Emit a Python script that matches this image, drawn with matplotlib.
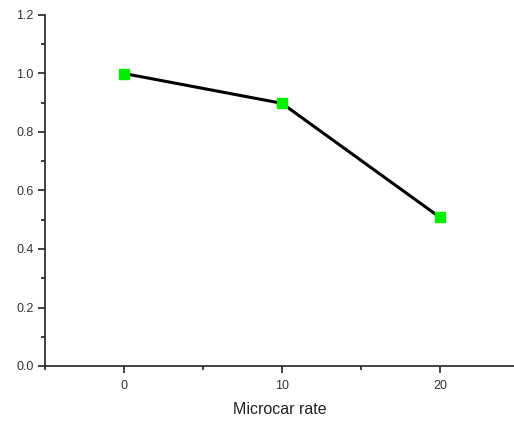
import matplotlib
matplotlib.use("Agg")
import matplotlib.pyplot as plt
from matplotlib.ticker import MultipleLocator

# data
rates = [0, 10, 20]
values = [1.0, 0.898, 0.508]

plt.rcParams['font.family'] = ['Liberation Sans', 'DejaVu Sans']

fig = plt.figure(figsize=(5.14, 4.21), dpi=100)
ax = fig.add_axes([45 / 514, 1 - 366 / 421, 1 - 45 / 514, (366 - 15) / 421])

ax.plot(rates, values, color='black', linewidth=2.2, marker='s',
        markersize=7, markerfacecolor='#00ee00', markeredgecolor='#00ee00', zorder=3)

ax.set_xlim(-5, -5 + (514 - 45) / 15.8)
ax.set_ylim(0, 1.2)
ax.xaxis.set_major_locator(MultipleLocator(10))
ax.xaxis.set_minor_locator(MultipleLocator(5))
ax.yaxis.set_major_locator(MultipleLocator(0.2))
ax.yaxis.set_minor_locator(MultipleLocator(0.1))
ax.yaxis.set_major_formatter(plt.FormatStrFormatter('%.1f'))

ax.spines['top'].set_visible(False)
ax.spines['right'].set_visible(False)
for s in ('left', 'bottom'):
    ax.spines[s].set_linewidth(1.2)
    ax.spines[s].set_color('#222222')

ax.tick_params(which='major', direction='out', length=5, width=1.2, labelsize=9,
               colors='#222222', labelcolor='#333333', pad=3)
ax.tick_params(axis='x', which='major', pad=5)
ax.tick_params(which='minor', direction='out', length=3, width=1.2, colors='#222222')

ax.set_xlabel('Microcar rate', fontsize=11.5, color='#222222', labelpad=7)

fig.savefig('out.png', dpi=100)
